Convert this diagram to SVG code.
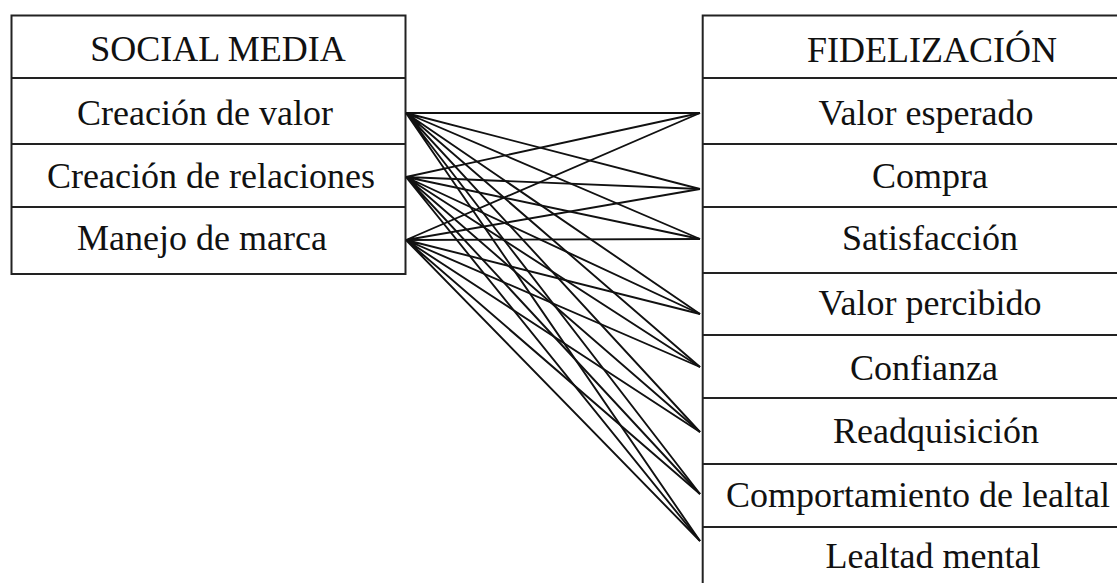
<svg xmlns="http://www.w3.org/2000/svg" width="1117" height="583" viewBox="0 0 1117 583">
  <style>
    .box { fill: #ffffff; stroke: #222222; stroke-width: 2; }
    .div { stroke: #222222; stroke-width: 2; }
    .lbl { font-family: "Liberation Serif", "Times New Roman", serif; font-size: 36px; fill: #111111; text-anchor: middle; }
    .link { stroke: #111111; stroke-width: 1.9; fill: none; }
  </style>
  <rect width="1117" height="583" fill="#ffffff"/>

  <!-- Left table: Social Media -->
  <g id="social-media">
    <rect class="box" x="11.5" y="15.5" width="394" height="258.5"/>
    <line class="div" x1="11.5" y1="78" x2="405.5" y2="78"/>
    <line class="div" x1="11.5" y1="144" x2="405.5" y2="144"/>
    <line class="div" x1="11.5" y1="207" x2="405.5" y2="207"/>
    <text class="lbl" x="218" y="61">SOCIAL MEDIA</text>
  </g>
  <g id="creacion-valor">
    <text class="lbl" x="205" y="125">Creación de valor</text>
  </g>
  <g id="creacion-relaciones">
    <text class="lbl" x="211" y="188">Creación de relaciones</text>
  </g>
  <g id="manejo-marca">
    <text class="lbl" x="202" y="250">Manejo de marca</text>
  </g>

  <!-- Right table: Fidelización (runs off the right and bottom edges) -->
  <g id="fidelizacion">
    <rect class="box" x="702.7" y="15.5" width="430" height="590"/>
    <line class="div" x1="702.7" y1="78" x2="1117" y2="78"/>
    <line class="div" x1="702.7" y1="144" x2="1117" y2="144"/>
    <line class="div" x1="702.7" y1="207" x2="1117" y2="207"/>
    <line class="div" x1="702.7" y1="273" x2="1117" y2="273"/>
    <line class="div" x1="702.7" y1="335" x2="1117" y2="335"/>
    <line class="div" x1="702.7" y1="398" x2="1117" y2="398"/>
    <line class="div" x1="702.7" y1="464" x2="1117" y2="464"/>
    <line class="div" x1="702.7" y1="527" x2="1117" y2="527"/>
    <text class="lbl" x="932" y="62">FIDELIZACIÓN</text>
  </g>
  <g id="valor-esperado"><text class="lbl" x="926" y="125">Valor esperado</text></g>
  <g id="compra"><text class="lbl" x="930" y="188">Compra</text></g>
  <g id="satisfaccion"><text class="lbl" x="930" y="250">Satisfacción</text></g>
  <g id="valor-percibido"><text class="lbl" x="930" y="315">Valor percibido</text></g>
  <g id="confianza"><text class="lbl" x="924" y="380">Confianza</text></g>
  <g id="readquisicion"><text class="lbl" x="936" y="443">Readquisición</text></g>
  <g id="comportamiento"><text class="lbl" x="918" y="507">Comportamiento de lealtal</text></g>
  <g id="lealtad-mental"><text class="lbl" x="933" y="568">Lealtad mental</text></g>

  <!-- Every Social Media item linked to every Fidelización item -->
  <g id="connectors">
    <path class="link" d="M406 113 L700 113 M406 113 L700 189 M406 113 L700 239 M406 113 L700 314 M406 113 L700 367 M406 113 L700 432 M406 113 L700 494 M406 113 L700 541"/>
    <path class="link" d="M406 177 L700 113 M406 177 L700 189 M406 177 L700 239 M406 177 L700 314 M406 177 L700 367 M406 177 L700 432 M406 177 L700 494 M406 177 L700 541"/>
    <path class="link" d="M406 240 L700 113 M406 240 L700 189 M406 240 L700 239 M406 240 L700 314 M406 240 L700 367 M406 240 L700 432 M406 240 L700 494 M406 240 L700 541"/>
  </g>
</svg>
